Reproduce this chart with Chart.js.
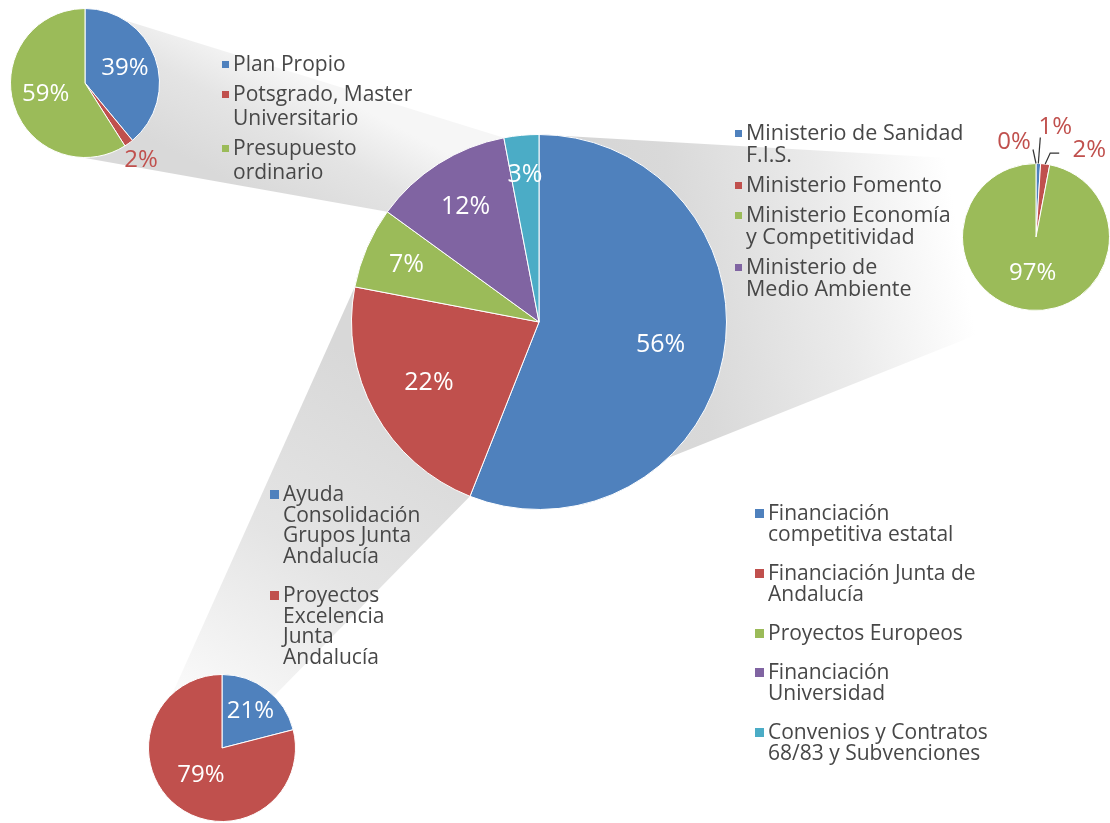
<!DOCTYPE html>
<html><head><meta charset="utf-8">
<script src="https://cdn.jsdelivr.net/npm/chart.js@4.4.1/dist/chart.umd.min.js"></script>
<style>
html,body{margin:0;padding:0;background:#fff;}
#wrap{position:relative;width:1110px;height:823px;overflow:hidden;font-family:"Open Sans",sans-serif;color:#474747;}
#wrap canvas{position:absolute;left:0;top:0;}
.legend{position:absolute;display:flex;flex-direction:column;}
.item{position:relative;white-space:nowrap;}
.sq{position:absolute;display:block;}
</style></head><body>
<div id="wrap">
<canvas id="cMain" width="1110" height="823"></canvas>
<canvas id="cUniv" width="1110" height="823"></canvas>
<canvas id="cEstatal" width="1110" height="823"></canvas>
<canvas id="cJunta" width="1110" height="823"></canvas>
<div id="lgUniv" class="legend"></div>
<div id="lgEstatal" class="legend"></div>
<div id="lgJunta" class="legend"></div>
<div id="lgMain" class="legend"></div>
</div>
<script>
// ---------- DATA ----------
const mainCategories = [
  ['Financiación', 'competitiva estatal'],
  ['Financiación Junta de', 'Andalucía'],
  ['Proyectos Europeos'],
  ['Financiación', 'Universidad'],
  ['Convenios y Contratos', '68/83 y Subvenciones']
];
const mainValues = [56, 22, 7, 12, 3];

const univCategories = [['Plan Propio'], ['Potsgrado, Master', 'Universitario'], ['Presupuesto', 'ordinario']];
const univValues = [39, 2, 59];

const estatalCategories = [['Ministerio de Sanidad', 'F.I.S.'], ['Ministerio Fomento'], ['Ministerio Economía', 'y Competitividad'], ['Ministerio de', 'Medio Ambiente']];
const estatalValues = [1, 2, 97, 0];

const juntaCategories = [['Ayuda', 'Consolidación', 'Grupos Junta', 'Andalucía'], ['Proyectos', 'Excelencia', 'Junta', 'Andalucía']];
const juntaValues = [21, 79];

// ---------- STYLE / LAYOUT ----------
const W = 1110, H = 823;
const BLUE = '#4f81bd', RED = '#c0504d', GREEN = '#9bbb59', PURPLE = '#8064a2', CYAN = '#4bacc6';
const mainColors = [BLUE, RED, GREEN, PURPLE, CYAN];
const univColors = [BLUE, RED, GREEN];
const estatalColors = [BLUE, RED, GREEN, PURPLE];
const juntaColors = [BLUE, RED];

const geo = {
  main:    {cx: 539, cy: 322, r: 188},
  univ:    {cx: 85,  cy: 83,  r: 75},
  estatal: {cx: 1036, cy: 237, r: 74},
  junta:   {cx: 222, cy: 748, r: 74}
};

function pad(g) {
  return {left: g.cx - g.r, top: g.cy - g.r, right: W - (g.cx + g.r), bottom: H - (g.cy + g.r)};
}

const pctLabels = {
  id: 'pctLabels',
  afterDatasetsDraw(chart, args, opts) {
    const meta = chart.getDatasetMeta(0);
    const vals = chart.data.datasets[0].data;
    const total = vals.reduce((a, b) => a + b, 0);
    const ctx = chart.ctx;
    ctx.save();
    ctx.font = opts.font;
    ctx.textAlign = 'center';
    ctx.textBaseline = 'middle';
    meta.data.forEach((arc, i) => {
      const p = opts.place[i];
      if (!p) return;
      const mid = (arc.startAngle + arc.endAngle) / 2;
      const R = arc.outerRadius * p.r;
      const ex = arc.x + Math.cos(mid) * R, ey = arc.y + Math.sin(mid) * R;
      if (p.leader) {
        ctx.beginPath();
        ctx.moveTo(ex, ey);
        p.leader.forEach(([ox, oy]) => ctx.lineTo(ex + ox, ey + oy));
        ctx.strokeStyle = '#333';
        ctx.lineWidth = 1.2;
        ctx.stroke();
      }
      ctx.fillStyle = p.color || '#ffffff';
      ctx.fillText(Math.round(vals[i] / total * 100) + '%', ex + (p.dx || 0), ey + (p.dy || 0));
    });
    ctx.restore();
  }
};

// grey "zoom" bands from a slice of the main pie to its breakdown pie
const connectors = {
  id: 'connectors',
  beforeDatasetsDraw(chart, args, opts) {
    const arcs = chart.getDatasetMeta(0).data;
    const ctx = chart.ctx;
    opts.items.forEach(it => {
      const a = arcs[it.slice];
      const pick = v => v === 'start' ? a.startAngle : v === 'end' ? a.endAngle : v;
      const mp = ang => [a.x + Math.cos(ang) * a.outerRadius, a.y + Math.sin(ang) * a.outerRadius];
      const s = it.pie;
      const sp = deg => [s.cx + Math.cos(deg * Math.PI / 180) * s.r, s.cy + Math.sin(deg * Math.PI / 180) * s.r];
      const P = [mp(pick(it.mainA)), sp(it.pieB), sp(it.pieC), mp(pick(it.mainD))];
      const mix = w => [0, 1].map(k => P.reduce((acc, pt, j) => acc + pt[k] * w[j], 0));
      const g0 = mix(it.gFrom), g1 = mix(it.gTo);
      const grad = ctx.createLinearGradient(g0[0], g0[1], g1[0], g1[1]);
      it.stops.forEach(([o, c]) => grad.addColorStop(o, c));
      ctx.save();
      ctx.beginPath();
      P.forEach((pt, j) => j ? ctx.lineTo(pt[0], pt[1]) : ctx.moveTo(pt[0], pt[1]));
      ctx.closePath();
      ctx.fillStyle = grad;
      ctx.fill();
      ctx.restore();
    });
  }
};

function pieChart(id, cats, vals, colors, g, place, font, extraPlugins, extraOpts) {
  return new Chart(document.getElementById(id), {
    type: 'pie',
    data: {
      labels: cats.map(c => c.join(' ')),
      datasets: [{data: vals, backgroundColor: colors, borderColor: '#ffffff', borderWidth: 1, hoverOffset: 0}]
    },
    options: {
      responsive: false,
      animation: false,
      events: [],
      layout: {padding: pad(g)},
      plugins: Object.assign({
        legend: {display: false},
        tooltip: {enabled: false},
        pctLabels: {place: place, font: font}
      }, extraOpts || {})
    },
    plugins: [pctLabels].concat(extraPlugins || [])
  });
}

const LBL_MAIN = '25px "Open Sans"';
const LBL_SMALL = '24px "Open Sans"';

pieChart('cMain', mainCategories, mainValues, mainColors, geo.main,
  [{r: 0.66}, {r: 0.67}, {r: 0.77}, {r: 0.73}, {r: 0.79}], LBL_MAIN, [connectors], {
    connectors: {items: [
      // Financiación Universidad -> top-left pie
      {slice: 3, pie: geo.univ, mainA: 'end', pieB: -90, pieC: 90, mainD: 'start',
       gFrom: [0.5, 0.5, 0, 0], gTo: [0, 0, 0.5, 0.5],
       stops: [[0, '#f6f6f6'], [0.45, '#e4e4e4'], [1, '#d9d9d9']]},
      // Financiación competitiva estatal -> right pie
      {slice: 0, pie: geo.estatal, mainA: 'start', pieB: -90, pieC: 90, mainD: Math.PI / 2,
       gFrom: [0.5, 0, 0, 0.5], gTo: [0, 0.5, 0.5, 0],
       stops: [[0, '#d3d3d3'], [0.3, '#d9d9d9'], [0.6, '#ebebeb'], [0.85, '#ffffff'], [1, '#ffffff']]},
      // Financiación Junta -> bottom pie
      {slice: 1, pie: geo.junta, mainA: 'start', pieB: -45, pieC: 180, mainD: 'end',
       gFrom: [0.5, 0, 0, 0.5], gTo: [0, 0.5, 0.5, 0],
       stops: [[0, '#d8d8d8'], [0.5, '#e4e4e4'], [1, '#fbfbfb']]}
    ]}
  });

pieChart('cUniv', univCategories, univValues, univColors, geo.univ,
  [{r: 0.57}, {r: 1.28, color: RED}, {r: 0.55}], LBL_SMALL);

pieChart('cEstatal', estatalCategories, estatalValues, estatalColors, geo.estatal,
  [{r: 1.0, dx: 17, dy: -36, leader: [[2, -26]], color: RED},
   {r: 1.0, dx: 44, dy: -14, leader: [[5, -11], [14, -11]], color: RED},
   {r: 0.49},
   {r: 1.0, dx: -22, dy: -21, leader: [[-3, -14]], color: RED}], LBL_SMALL);

pieChart('cJunta', juntaCategories, juntaValues, juntaColors, geo.junta,
  [{r: 0.63}, {r: 0.47}], LBL_SMALL);

// ---------- LEGENDS (HTML text) ----------
function buildLegend(id, cats, colors, st) {
  const el = document.getElementById(id);
  el.style.left = st.left + 'px';
  el.style.top = st.top + 'px';
  el.style.gap = st.gap + 'px';
  el.style.fontSize = st.fontSize + 'px';
  el.style.lineHeight = st.lineHeight + 'px';
  cats.forEach((lines, i) => {
    const item = document.createElement('div');
    item.className = 'item';
    const sq = document.createElement('span');
    sq.className = 'sq';
    sq.style.width = st.sq + 'px';
    sq.style.height = st.sq + 'px';
    sq.style.left = (-st.sq - 4) + 'px';
    sq.style.top = (st.lineHeight / 2 - st.sq / 2 + 1) + 'px';
    sq.style.background = colors[i];
    item.appendChild(sq);
    lines.forEach((ln, k) => {
      if (k) item.appendChild(document.createElement('br'));
      item.appendChild(document.createTextNode(ln));
    });
    el.appendChild(item);
  });
}

buildLegend('lgUniv', univCategories, univColors, {left: 233, top: 51, gap: 6, fontSize: 21, lineHeight: 24, sq: 7});
buildLegend('lgEstatal', estatalCategories, estatalColors, {left: 746, top: 121, gap: 8, fontSize: 21.5, lineHeight: 22, sq: 7});
buildLegend('lgMain', mainCategories, mainColors, {left: 768, top: 502, gap: 18, fontSize: 21, lineHeight: 21, sq: 9});
buildLegend('lgJunta', juntaCategories, juntaColors, {left: 283, top: 483, gap: 19, fontSize: 21, lineHeight: 20.5, sq: 9});
</script>
</body></html>
